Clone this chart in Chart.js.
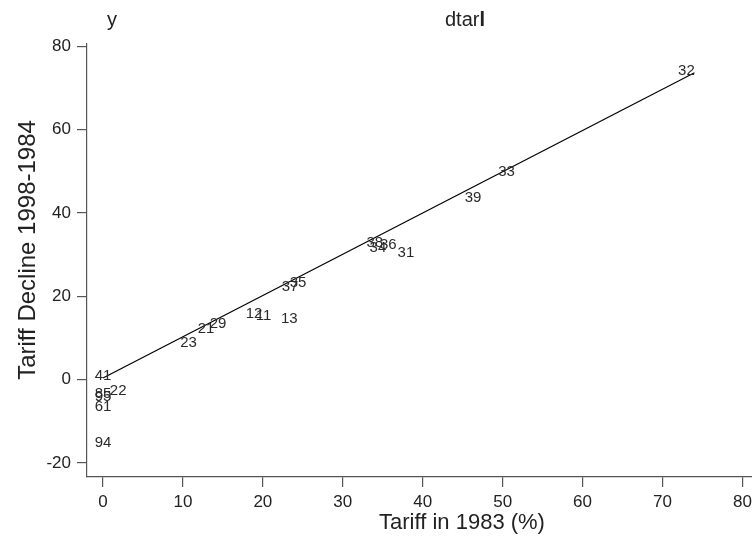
<!DOCTYPE html>
<html>
<head>
<meta charset="utf-8">
<script src="https://cdn.jsdelivr.net/npm/chart.js@4/dist/chart.umd.min.js"></script>
<style>
  html, body { margin: 0; padding: 0; background: #fff; }
  #wrap { width: 752px; height: 542px; position: relative; }
</style>
</head>
<body>
<div id="wrap"><canvas id="c" width="752" height="542"></canvas></div>
<script>
// ---- data ----
const pointLabels = ["41","22","85","95","61","94","23","21","29","12","11","13","37","35","38","34","36","31","39","33","32"];
const tariff1983  = [0, 1.9, 0, 0, 0, 0, 10.7, 12.9, 14.4, 18.9, 20.1, 23.3, 23.4, 24.4, 34.0, 34.4, 35.7, 37.9, 46.3, 50.5, 73.0];
const tariffDecline = [1.0, -2.7, -3.5, -4.2, -6.6, -15.3, 8.9, 12.2, 13.3, 15.8, 15.3, 14.6, 22.3, 23.3, 32.9, 31.6, 32.3, 30.4, 43.7, 49.9, 74.2];
const fitX = [0, 74];
const fitY = [0.4, 73.7];
const xTicks = [0, 10, 20, 30, 40, 50, 60, 70, 80];
const yTicks = [-20, 0, 20, 40, 60, 80];

const FONT = "'Liberation Sans', Arial, sans-serif";
const AXIS = '#555555';
const TEXT = '#222222';

const scatterData = tariff1983.map((x, i) => ({ x: x, y: tariffDecline[i] }));
const fitData = fitX.map((x, i) => ({ x: x, y: fitY[i] }));

const labelPlugin = {
  id: 'pointText',
  afterDatasetsDraw(chart) {
    const ctx = chart.ctx;
    const meta = chart.getDatasetMeta(1);
    ctx.save();
    ctx.font = '15px ' + FONT;
    ctx.fillStyle = '#2a2a2a';
    ctx.textAlign = 'center';
    ctx.textBaseline = 'middle';
    meta.data.forEach((el, i) => {
      ctx.fillText(pointLabels[i], el.x, el.y);
    });
    ctx.restore();
  }
};

const titlePlugin = {
  id: 'titles',
  afterDraw(chart) {
    const ctx = chart.ctx;
    ctx.save();
    ctx.fillStyle = TEXT;
    ctx.textBaseline = 'middle';
    ctx.font = '20px ' + FONT;
    ctx.textAlign = 'left';
    ctx.fillText('y', 107, 20);
    const w = ctx.measureText('dtar').width;
    ctx.fillText('dtar', 445, 20);
    ctx.font = 'bold 20px ' + FONT;
    ctx.fillText('l', 445 + w, 20);
    // axis titles
    ctx.font = '22px ' + FONT;
    ctx.textAlign = 'center';
    ctx.fillText('Tariff in 1983 (%)', 462, 523);
    ctx.font = '24px ' + FONT;
    ctx.translate(28, 250);
    ctx.rotate(-Math.PI / 2);
    ctx.fillText('Tariff Decline 1998-1984', 0, 0);
    ctx.restore();
  }
};

new Chart(document.getElementById('c'), {
  type: 'scatter',
  data: {
    datasets: [
      {
        type: 'line',
        data: fitData,
        borderColor: '#000000',
        borderWidth: 1.2,
        pointRadius: 0,
        fill: false,
        tension: 0
      },
      {
        data: scatterData,
        pointRadius: 0,
        pointHoverRadius: 0,
        backgroundColor: 'rgba(0,0,0,0)',
        borderColor: 'rgba(0,0,0,0)'
      }
    ]
  },
  options: {
    responsive: false,
    animation: false,
    devicePixelRatio: 1,
    layout: { padding: { top: 44, right: 0, left: 0, bottom: 0 } },
    plugins: {
      legend: { display: false },
      tooltip: { enabled: false },
      title: { display: false }
    },
    scales: {
      x: {
        type: 'linear',
        min: -2,
        max: 81.2,
        afterFit(scale) { scale.height = 65; scale.paddingLeft = 0; scale.paddingRight = 0; },
        afterBuildTicks(scale) { scale.ticks = xTicks.map(v => ({ value: v })); },
        border: { display: true, color: AXIS, width: 1.2 },
        grid: { drawOnChartArea: false, drawTicks: true, tickLength: 10, color: AXIS, tickColor: AXIS, lineWidth: 1.2 },
        ticks: { font: { family: FONT, size: 17 }, color: TEXT, padding: 5, maxRotation: 0, includeBounds: false },
        title: { display: false }
      },
      y: {
        type: 'linear',
        min: -23.4,
        max: 80.6,
        afterFit(scale) { scale.width = 87; scale.paddingTop = 0; scale.paddingBottom = 0; },
        afterBuildTicks(scale) { scale.ticks = yTicks.map(v => ({ value: v })); },
        border: { display: true, color: AXIS, width: 1.2 },
        grid: { drawOnChartArea: false, drawTicks: true, tickLength: 10, color: AXIS, tickColor: AXIS, lineWidth: 1.2 },
        ticks: { font: { family: FONT, size: 17 }, color: TEXT, padding: 6, includeBounds: false },
        title: { display: false }
      }
    }
  },
  plugins: [labelPlugin, titlePlugin]
});
</script>
</body>
</html>
